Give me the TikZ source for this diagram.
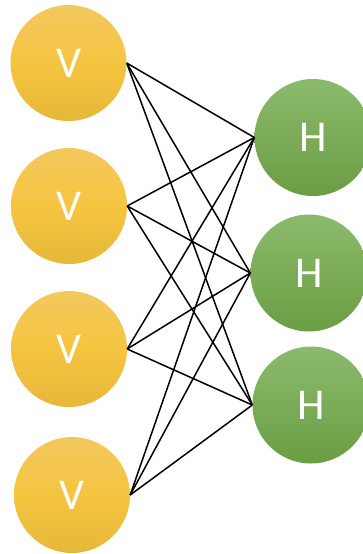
\documentclass[tikz,border=0pt]{standalone}
\usepackage{fontspec}
\setmainfont{Carlito}
\begin{document}
\begin{tikzpicture}[x=1pt,y=-1pt,
  vis/.style={circle,minimum size=116pt,inner sep=0pt,top color=vtop,bottom color=vbot,middle color=vmid,text=white,font=\fontsize{44}{44}\selectfont},
  hid/.style={circle,minimum size=117pt,inner sep=0pt,top color=htop,bottom color=hbot,text=white,font=\fontsize{44}{44}\selectfont},
  link/.style={draw=black,line width=1.5pt}]
\definecolor{vtop}{HTML}{F3C85E}
\definecolor{vmid}{HTML}{F5C540}
\definecolor{vbot}{HTML}{E7B73A}
\definecolor{htop}{HTML}{8CBA6D}
\definecolor{hbot}{HTML}{6B9D43}
\useasboundingbox (0,0) rectangle (363,554);
\clip (0,0) rectangle (363,554);
\node[vis] (v1) at (68.5,63) {V};
\node[vis] (v2) at (69,206) {V};
\node[vis] (v3) at (69,349) {V};
\node[vis] (v4) at (72,495) {V};
\node[hid] (h1) at (313,137.5) {H};
\node[hid] (h2) at (309,273) {H};
\node[hid] (h3) at (311,405) {H};
\foreach \v in {v1,v2,v3,v4}{
  \foreach \h in {h1,h2,h3}{
    \draw[link] (\v.east) -- (\h.west);
  }
}
\end{tikzpicture}
\end{document}
